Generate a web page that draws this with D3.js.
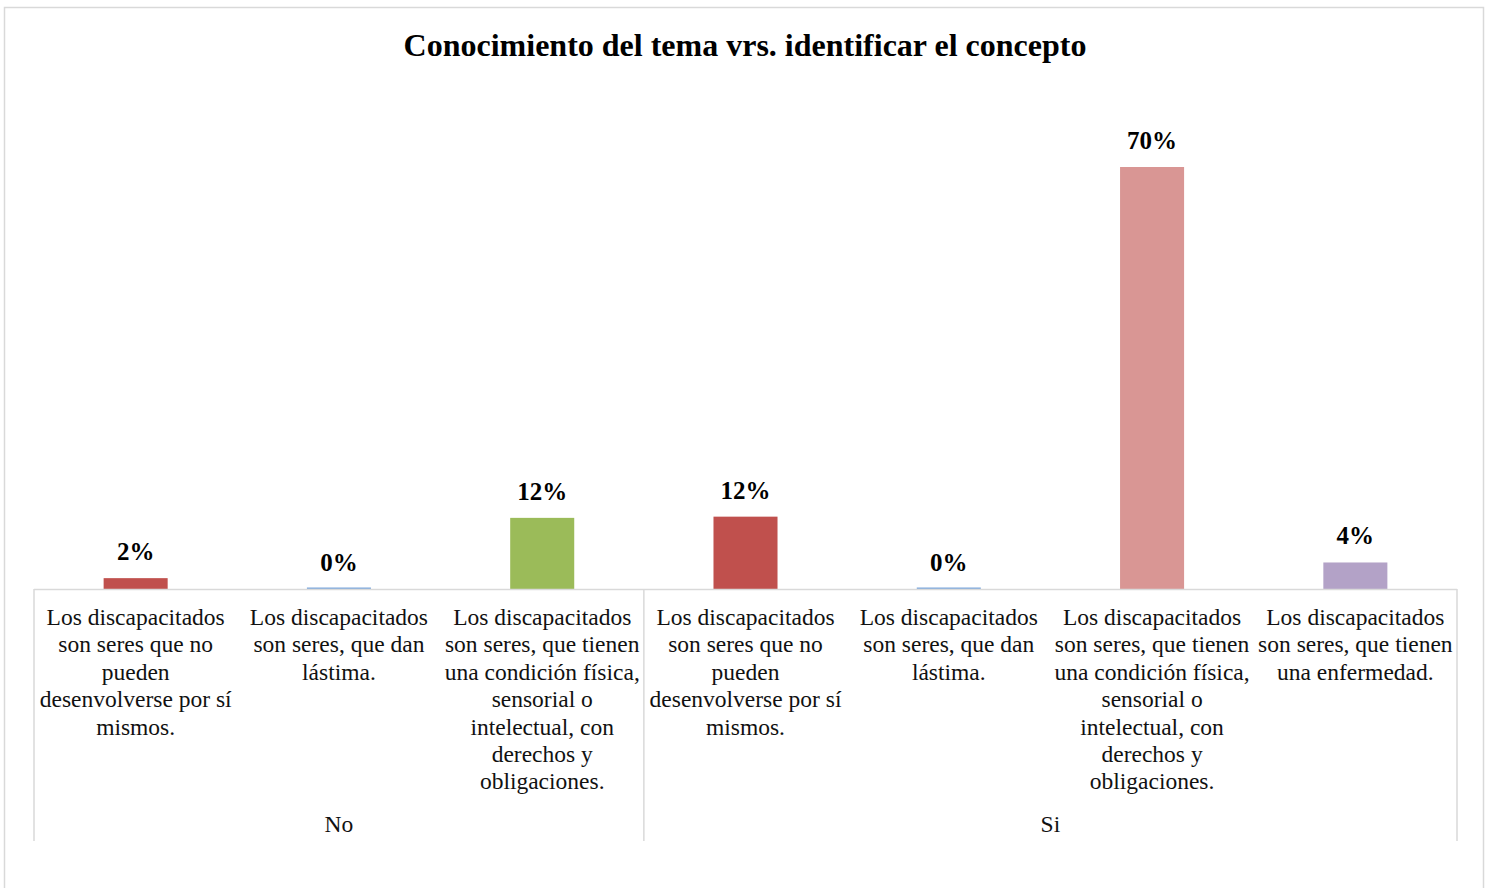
<!DOCTYPE html>
<html>
<head>
<meta charset="utf-8">
<script src="https://cdn.jsdelivr.net/npm/d3@7"></script>
<style>
  body { margin: 0; background: #fff; }
  svg { display: block; font-family: "Liberation Serif", "Times New Roman", serif; }
</style>
</head>
<body>
<div id="chart"></div>
<script>
// data
const title = "Conocimiento del tema vrs. identificar el concepto"
const groups = ["No", "Si"]
const groupSizes = [3, 4]
const categories = [
    "Los discapacitados\nson seres que no\npueden\ndesenvolverse por sí\nmismos.",
    "Los discapacitados\nson seres, que dan\nlástima.",
    "Los discapacitados\nson seres, que tienen\nuna condición física,\nsensorial o\nintelectual, con\nderechos y\nobligaciones.",
    "Los discapacitados\nson seres que no\npueden\ndesenvolverse por sí\nmismos.",
    "Los discapacitados\nson seres, que dan\nlástima.",
    "Los discapacitados\nson seres, que tienen\nuna condición física,\nsensorial o\nintelectual, con\nderechos y\nobligaciones.",
    "Los discapacitados\nson seres, que tienen\nuna enfermedad."
]
const values = [0.018, 0, 0.118, 0.12, 0, 0.70, 0.044]
const barColors = ["#c0504d", "#7ea8dc", "#9bbb59", "#c0504d", "#7ea8dc", "#d99694", "#b3a2c7"]

const dimensions = {
    width: 1486,
    height: 888,
    margin: { top: 167, right: 29, bottom: 299, left: 34 },
}
dimensions.boundedWidth = dimensions.width - dimensions.margin.left - dimensions.margin.right
dimensions.boundedHeight = dimensions.height - dimensions.margin.top - dimensions.margin.bottom

const svg = d3.select("#chart").append("svg")
    .attr("width", dimensions.width)
    .attr("height", dimensions.height)

// outer chart frame
svg.append("rect")
    .attr("x", 4.5).attr("y", 7.5)
    .attr("width", 1479).attr("height", 900)
    .attr("fill", "none")
    .attr("stroke", "#d9d9d9")
    .attr("stroke-width", 1.5)

svg.append("text")
    .attr("x", 745).attr("y", 56)
    .attr("text-anchor", "middle")
    .style("font-size", "32px")
    .style("font-weight", "bold")
    .text(title)

const bounds = svg.append("g")
    .attr("transform", `translate(${dimensions.margin.left},${dimensions.margin.top})`)

const xScale = d3.scaleBand()
    .domain(d3.range(categories.length))
    .range([0, dimensions.boundedWidth])

const yScale = d3.scaleLinear()
    .domain([0, 0.70])
    .range([dimensions.boundedHeight, 0])

const barWidth = xScale.bandwidth() * 0.315

bounds.selectAll(".bar")
    .data(values)
    .join("rect")
    .attr("class", "bar")
    .attr("x", (d, i) => xScale(i) + (xScale.bandwidth() - barWidth) / 2)
    .attr("width", barWidth)
    .attr("y", d => d > 0 ? yScale(d) : dimensions.boundedHeight - 1.5)
    .attr("height", d => d > 0 ? dimensions.boundedHeight - yScale(d) : 1.5)
    .attr("fill", (d, i) => barColors[i])

bounds.selectAll(".value")
    .data(values)
    .join("text")
    .attr("class", "value")
    .attr("x", (d, i) => xScale(i) + xScale.bandwidth() / 2)
    .attr("y", d => yScale(d) - 18)
    .attr("text-anchor", "middle")
    .style("font-size", "25px")
    .style("font-weight", "bold")
    .text(d => d3.format(".0%")(d))

// category axis
const axisColor = "#d9d9d9"
bounds.append("line")
    .attr("x1", 0).attr("x2", dimensions.boundedWidth)
    .attr("y1", dimensions.boundedHeight + 0.5).attr("y2", dimensions.boundedHeight + 0.5)
    .attr("stroke", axisColor).attr("stroke-width", 1.5)

const groupStarts = [0]
groupSizes.forEach((n, i) => groupStarts.push(groupStarts[i] + n))
const edgeX = i => i >= categories.length ? dimensions.boundedWidth : xScale(i)

bounds.selectAll(".group-line")
    .data(groupStarts)
    .join("line")
    .attr("class", "group-line")
    .attr("x1", d => edgeX(d)).attr("x2", d => edgeX(d))
    .attr("y1", dimensions.boundedHeight).attr("y2", dimensions.boundedHeight + 252)
    .attr("stroke", axisColor).attr("stroke-width", 1.5)

const catLabels = bounds.selectAll(".cat")
    .data(categories)
    .join("text")
    .attr("class", "cat")
    .attr("text-anchor", "middle")
    .style("font-size", "23.5px")
    .attr("fill", "#111")

catLabels.selectAll("tspan")
    .data((d, i) => d.split("\n").map(t => ({ t, i })))
    .join("tspan")
    .attr("x", d => xScale(d.i) + xScale.bandwidth() / 2)
    .attr("y", (d, j) => dimensions.boundedHeight + 36 + j * 27.4)
    .text(d => d.t)

bounds.selectAll(".group")
    .data(groups)
    .join("text")
    .attr("class", "group")
    .attr("x", (d, i) => (edgeX(groupStarts[i]) + edgeX(groupStarts[i + 1])) / 2)
    .attr("y", dimensions.boundedHeight + 243)
    .attr("text-anchor", "middle")
    .style("font-size", "23.5px")
    .attr("fill", "#111")
    .text(d => d)
</script>
</body>
</html>
